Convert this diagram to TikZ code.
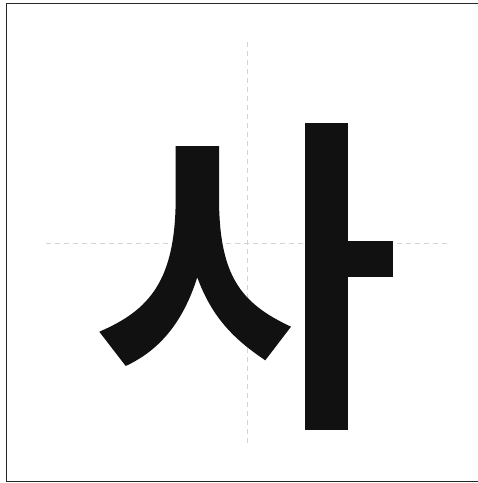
\documentclass[tikz,border=0pt]{standalone}
\begin{document}
\begin{tikzpicture}[x=1pt,y=-1pt,
  glyph/.style={fill=glyphcol,draw=none},
  guide/.style={draw=guidecol,line width=1pt,dash pattern=on 5pt off 4pt},
  frame/.style={draw=black!85,line width=1.2pt}]
\definecolor{glyphcol}{HTML}{111111}
\definecolor{guidecol}{HTML}{D4D4D4}
\useasboundingbox (0,0) rectangle (478,483);
\fill[white] (0,0) rectangle (478,483);
\draw[frame] (6.5,3.5) rectangle (478.5,481.5);
% guide lines
\coordinate (vt) at (247.5,42);
\coordinate (vb) at (247.5,446);
\coordinate (hl) at (46,243.5);
\coordinate (hr) at (450,243.5);
\draw[guide] (vt) -- (vb);
\draw[guide] (hl) -- (hr);
% vowel bar
\fill[glyph] (305,122.7) rectangle (348,430);
\fill[glyph] (347,240.7) rectangle (393.3,277.3);
% siot
\fill[glyph] (175.7,146) -- (219,146) -- (219,197)
  .. controls (219,275) and (240,303) .. (291,326.7)
  -- (265.3,360.3)
  .. controls (235,340) and (212,318) .. (197.3,277.3)
  .. controls (183,322) and (160,350) .. (125.7,366)
  -- (99.3,331.7)
  .. controls (150,310) and (175.7,280) .. (175.7,197)
  -- cycle;
\end{tikzpicture}
\end{document}
